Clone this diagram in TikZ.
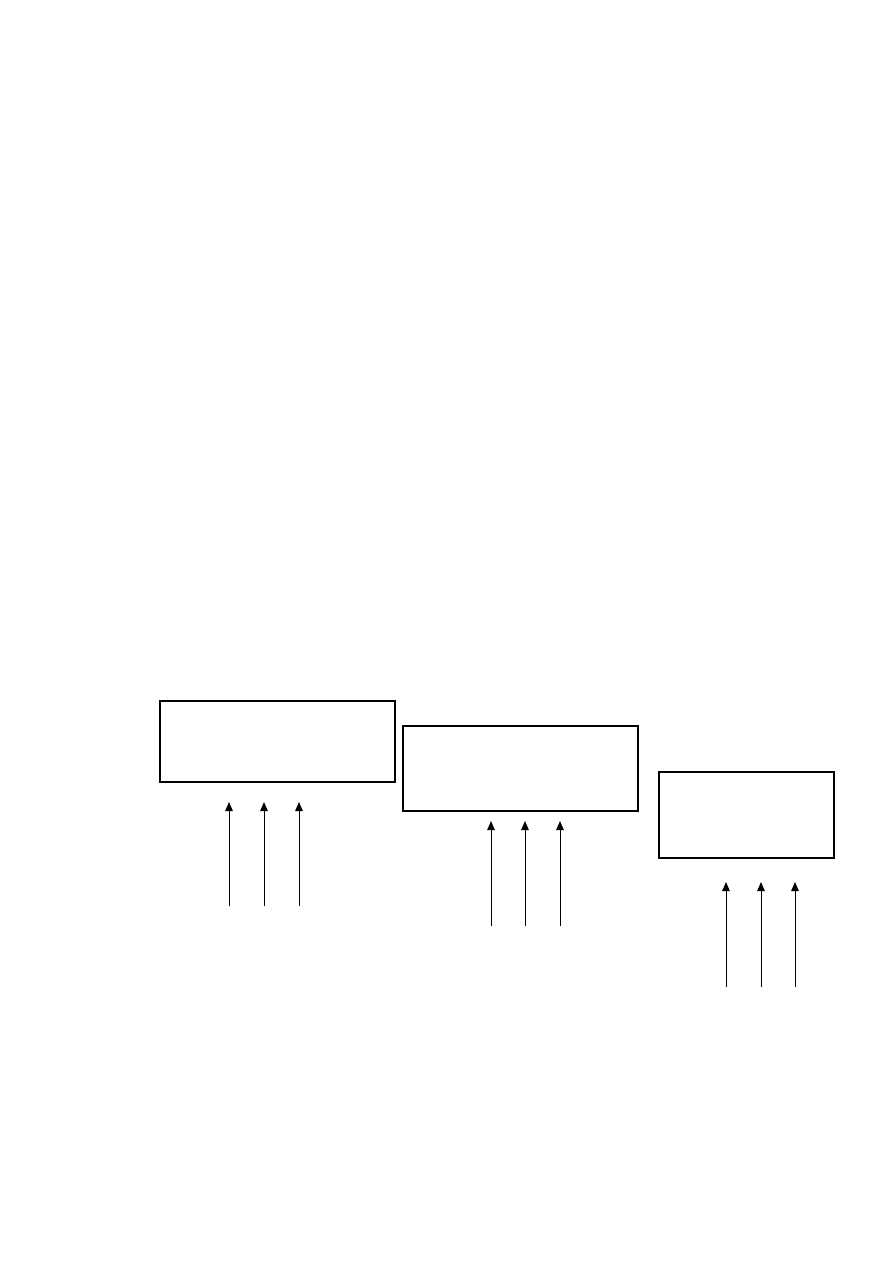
\documentclass[tikz,border=0pt]{standalone}
\usetikzlibrary{arrows.meta}
\begin{document}
\begin{tikzpicture}[x=1pt,y=-1pt,
  boxstyle/.style={draw,line width=1.7pt,inner sep=0pt,anchor=north west},
  uparrow/.style={line width=1pt,-{Triangle[length=9pt,width=7.5pt]}}]
\useasboundingbox (0,0) rectangle (893,1263);
\node[boxstyle,minimum width=235pt,minimum height=81pt] (b1) at (159,700) {};
\node[boxstyle,minimum width=235pt,minimum height=85pt] (b2) at (402,725) {};
\node[boxstyle,minimum width=175pt,minimum height=86pt] (b3) at (658,771) {};
\foreach \i/\x in {1/229,2/264,3/299}{
  \coordinate (a1s\i) at (\x,906); \coordinate (a1e\i) at (\x,802);
  \draw[uparrow] (a1s\i) -- (a1e\i);}
\foreach \i/\x in {1/491,2/525,3/560}{
  \coordinate (a2s\i) at (\x,926); \coordinate (a2e\i) at (\x,821);
  \draw[uparrow] (a2s\i) -- (a2e\i);}
\foreach \i/\x in {1/726,2/761,3/795}{
  \coordinate (a3s\i) at (\x,987); \coordinate (a3e\i) at (\x,882);
  \draw[uparrow] (a3s\i) -- (a3e\i);}
\end{tikzpicture}
\end{document}
